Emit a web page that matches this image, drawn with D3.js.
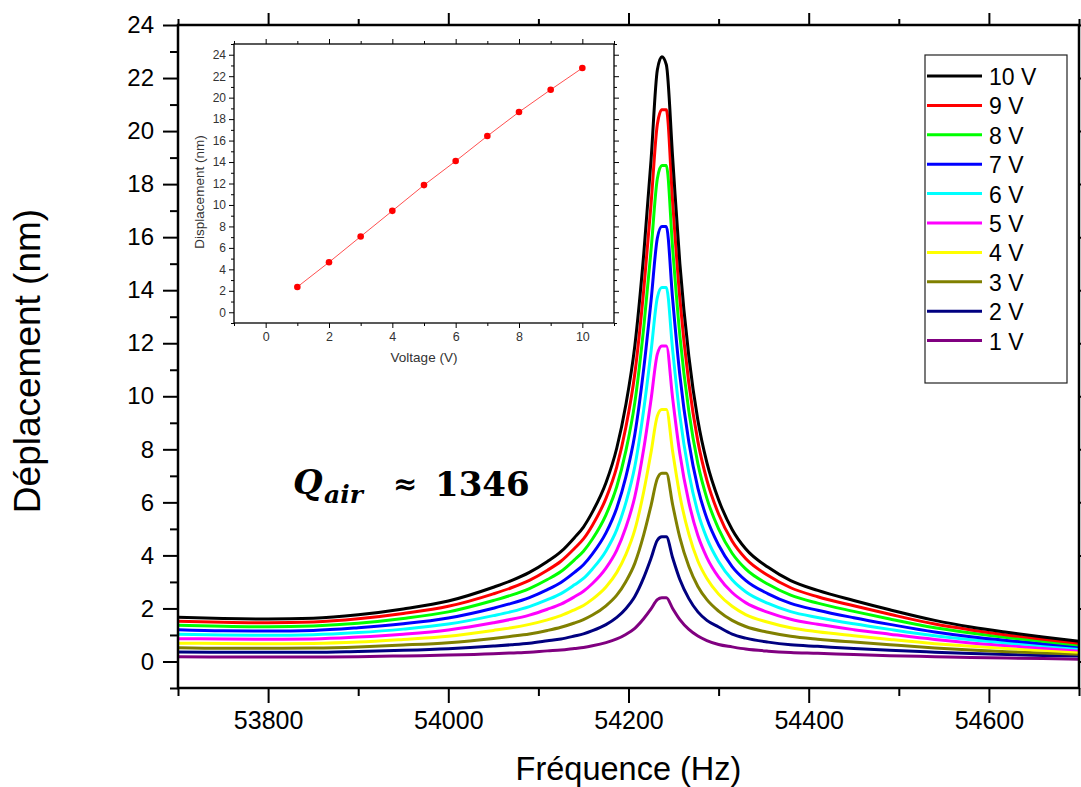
<!DOCTYPE html>
<html><head><meta charset="utf-8">
<script src="https://cdn.jsdelivr.net/npm/d3@7/dist/d3.min.js"></script>
<style>body{margin:0;background:#fff} svg{display:block}</style>
</head><body><svg id="c" width="1081" height="787"></svg>
<script>
// ---------- data ----------
const frequencies = [53700,53750,53800,53850,53900,53950,54000,54050,54070,54090,
  54110,54125,54140,54150,54160,54175,54187,54197,54207,54217,54225,54232,
  54237,54242,
  54249,54257,54267,54277,54287,54300,54315,
  54330,54355,54380,54410,54450,54490,54540,54580,54620,54660,54700];
const disp10V = [1.67,1.62,1.60,1.63,1.76,1.98,2.28,2.80,3.05,3.36, 3.77,4.14,4.67,5.07,5.64,6.74,8.05,9.67,11.9,15.4,18.9,22.3, 22.8,22.5, 19.0,15.0,11.5,9.1,7.5,6.1,4.98, 4.25,3.55,3.05,2.68,2.30,1.95,1.55,1.30,1.10,0.92,0.76];
const disp9V = [1.52,1.48,1.46,1.49,1.61,1.81,2.08,2.55,2.78,3.06, 3.44,3.78,4.26,4.62,5.14,6.15,7.34,8.82,10.85,14.04,17.24,20.25, 20.8,20.8, 17.33,13.68,10.49,8.30,6.84,5.56,4.54, 3.88,3.24,2.78,2.44,2.10,1.78,1.41,1.19,1.00,0.84,0.69];
const disp8V = [1.37,1.33,1.31,1.34,1.44,1.62,1.87,2.30,2.50,2.75, 3.09,3.39,3.83,4.16,4.62,5.53,6.60,7.93,9.76,12.63,15.50,18.2, 18.7,18.7, 15.58,12.30,9.43,7.46,6.15,5.00,4.08, 3.49,2.91,2.50,2.20,1.89,1.60,1.27,1.07,0.90,0.76,0.62];
const disp7V = [1.20,1.16,1.15,1.17,1.27,1.42,1.64,2.01,2.19,2.41, 2.71,2.98,3.36,3.65,4.06,4.85,5.79,6.95,8.56,11.07,13.59,15.96, 16.4,16.4, 13.66,10.79,8.27,6.54,5.39,4.39,3.58, 3.06,2.55,2.19,1.93,1.65,1.40,1.11,0.93,0.79,0.67,0.56];
const disp6V = [1.03,1.00,0.99,1.01,1.09,1.22,1.41,1.73,1.88,2.07, 2.33,2.56,2.89,3.13,3.49,4.17,4.97,5.98,7.35,9.52,11.68,13.72, 14.1,14.1, 11.74,9.27,7.11,5.62,4.64,3.77,3.08, 2.63,2.19,1.88,1.66,1.42,1.21,0.97,0.82,0.70,0.60,0.50];
const disp5V = [0.86,0.85,0.84,0.85,0.92,1.03,1.19,1.46,1.59,1.75, 1.97,2.16,2.44,2.65,2.94,3.52,4.20,5.05,6.21,8.04,9.87,11.59, 11.9,11.9, 9.92,7.83,6.00,4.75,3.92,3.18,2.60, 2.22,1.85,1.59,1.40,1.20,1.03,0.83,0.70,0.60,0.51,0.43];
const disp4V = [0.69,0.68,0.67,0.68,0.73,0.83,0.95,1.17,1.27,1.40, 1.57,1.73,1.95,2.11,2.35,2.81,3.36,4.03,4.96,6.42,7.88,9.26, 9.5,9.5, 7.92,6.26,4.80,3.79,3.13,2.54,2.08, 1.77,1.48,1.27,1.12,0.97,0.83,0.67,0.57,0.49,0.42,0.35];
const disp3V = [0.52,0.50,0.50,0.51,0.55,0.62,0.71,0.87,0.95,1.04, 1.17,1.29,1.45,1.58,1.75,2.10,2.50,3.01,3.70,4.79,5.88,6.90, 7.1,7.1, 5.91,4.67,3.58,2.83,2.33,1.90,1.55, 1.32,1.10,0.95,0.84,0.73,0.63,0.51,0.43,0.37,0.32,0.27];
const disp2V = [0.36,0.35,0.35,0.35,0.38,0.42,0.48,0.58,0.63,0.69, 0.78,0.85,0.96,1.04,1.16,1.39,1.66,1.99,2.45,3.17,3.89,4.57, 4.7,4.7, 3.91,3.09,2.37,1.87,1.55,1.30,1.03, 0.88,0.73,0.63,0.57,0.49,0.42,0.35,0.30,0.26,0.23,0.21];
const disp1V = [0.18,0.17,0.17,0.17,0.18,0.21,0.24,0.29,0.32,0.35, 0.40,0.43,0.49,0.53,0.59,0.71,0.85,1.02,1.25,1.62,1.98,2.33, 2.4,2.4, 2.00,1.58,1.21,0.96,0.79,0.64,0.55, 0.47,0.39,0.34,0.31,0.26,0.22,0.18,0.15,0.13,0.11,0.08];
const seriesLabels = ["10 V","9 V","8 V","7 V","6 V","5 V","4 V","3 V","2 V","1 V"];
const seriesColors = ["#000000","#ff0000","#00ff00","#0000ff","#00ffff","#ff00ff","#ffff00","#808000","#000080","#800080"];
const seriesValues = [disp10V,disp9V,disp8V,disp7V,disp6V,disp5V,disp4V,disp3V,disp2V,disp1V];
const xMajorTicks = [53800,54000,54200,54400,54600];
const xMinorTicks = [53700,53900,54100,54300,54500,54700];
const yMajorTicks = [0,2,4,6,8,10,12,14,16,18,20,22,24];
const yMinorTicks = [-1,1,3,5,7,9,11,13,15,17,19,21,23];
// inset
const insetVoltages = [1,2,3,4,5,6,7,8,9,10];
const insetDisp = [2.36,4.66,7.06,9.45,11.85,14.09,16.42,18.66,20.74,22.76];
const insetXMajor = [0,2,4,6,8,10];
const insetXMinor = [-1,1,3,5,7,9,11];
const insetYMajor = [0,2,4,6,8,10,12,14,16,18,20,22,24];
const insetYMinor = [-1,1,3,5,7,9,11,13,15,17,19,21,23,25];

// ---------- main chart ----------
const svg = d3.select("#c");
const L = 178, R = 1079, T = 25, B = 688;
const x = d3.scaleLinear([53700,54700],[L,R]);
const y = d3.scaleLinear([-1,24],[B,T]);
const font = "'Liberation Sans', Arial, sans-serif";

svg.append("defs").append("clipPath").attr("id","clip")
  .append("rect").attr("x",L).attr("y",T).attr("width",R-L).attr("height",B-T);

const curves = svg.append("g").attr("clip-path","url(#clip)");
const line = d3.line().x((d,i)=>x(frequencies[i])).y(d=>y(d)).curve(d3.curveMonotoneX);
for (let k = seriesValues.length-1; k >= 0; k--) {
  curves.append("path").attr("d", line(seriesValues[k]))
    .attr("fill","none").attr("stroke",seriesColors[k]).attr("stroke-width",3)
    .attr("stroke-linejoin","round");
}

function styleAxis(g, sw){
  g.select(".domain").remove();
  g.selectAll(".tick line").attr("stroke","#000").attr("stroke-width",sw);
}
// left
svg.append("g").attr("transform",`translate(${L},0)`)
  .call(d3.axisLeft(y).tickValues(yMajorTicks).tickSize(15).tickPadding(9))
  .call(g=>{styleAxis(g,2); g.selectAll("text").attr("font-family",font).attr("font-size",24).attr("fill","#000");});
svg.append("g").attr("transform",`translate(${L},0)`)
  .call(d3.axisLeft(y).tickValues(yMinorTicks).tickSize(8).tickFormat(""))
  .call(g=>styleAxis(g,2));
// right
svg.append("g").attr("transform",`translate(${R},0)`)
  .call(d3.axisRight(y).tickValues(yMajorTicks).tickSize(12).tickFormat(""))
  .call(g=>styleAxis(g,2));
// bottom
svg.append("g").attr("transform",`translate(0,${B})`)
  .call(d3.axisBottom(x).tickValues(xMajorTicks).tickSize(15).tickPadding(8).tickFormat(d3.format("d")))
  .call(g=>{styleAxis(g,2); g.selectAll("text").attr("font-family",font).attr("font-size",25).attr("fill","#000");});
svg.append("g").attr("transform",`translate(0,${B})`)
  .call(d3.axisBottom(x).tickValues(xMinorTicks).tickSize(8).tickFormat(""))
  .call(g=>styleAxis(g,2));
// top
svg.append("g").attr("transform",`translate(0,${T})`)
  .call(d3.axisTop(x).tickValues(xMajorTicks).tickSize(12).tickFormat(""))
  .call(g=>styleAxis(g,2));
svg.append("g").attr("transform",`translate(0,${T})`)
  .call(d3.axisTop(x).tickValues(xMinorTicks).tickSize(6).tickFormat(""))
  .call(g=>styleAxis(g,2));
// frame
svg.append("rect").attr("x",L).attr("y",T).attr("width",R-L).attr("height",B-T)
  .attr("fill","none").attr("stroke","#000").attr("stroke-width",2.5);

// axis titles
svg.append("text").attr("x",(L+R)/2).attr("y",780).attr("text-anchor","middle")
  .attr("font-family",font).attr("font-size",32.5).attr("fill","#000").text("Fréquence (Hz)");
svg.append("text").attr("transform",`translate(40,361) rotate(-90)`).attr("text-anchor","middle")
  .attr("font-family",font).attr("font-size",37).attr("fill","#000").text("Déplacement (nm)");

// annotation
const serif = "'DejaVu Serif', serif";
svg.append("text").attr("x",293).attr("y",494).attr("font-family",serif).attr("font-weight","bold")
  .attr("font-style","italic").attr("font-size",34).text("Q");
svg.append("text").attr("x",324).attr("y",503).attr("font-family",serif).attr("font-weight","bold")
  .attr("font-style","italic").attr("font-size",25).text("air");
svg.append("text").attr("x",393).attr("y",494).attr("font-family",serif).attr("font-weight","bold")
  .attr("font-size",29).text("≈");
svg.append("text").attr("x",435).attr("y",496).attr("font-family",serif).attr("font-weight","bold")
  .attr("font-size",34).text("1346");

// legend
const lg = svg.append("g");
lg.append("rect").attr("x",925).attr("y",55).attr("width",142).attr("height",328)
  .attr("fill","#fff").attr("stroke","#222").attr("stroke-width",1.2);
seriesLabels.forEach((lab,i)=>{
  const yy = 76 + i*29.4;
  lg.append("line").attr("x1",927).attr("x2",982).attr("y1",yy).attr("y2",yy)
    .attr("stroke",seriesColors[i]).attr("stroke-width",3);
  lg.append("text").attr("x",989).attr("y",yy+9).attr("font-family",font).attr("font-size",23)
    .attr("fill","#000").text(lab);
});

// ---------- inset ----------
const iL = 234, iR = 614, iT = 44, iB = 323;
const ix = d3.scaleLinear([-1,11],[iL,iR]);
const iy = d3.scaleLinear([-1,25],[iB,iT]);
const ins = svg.append("g");
ins.append("rect").attr("x",iL).attr("y",iT).attr("width",iR-iL).attr("height",iB-iT).attr("fill","#fff");
const lab = "#333";
ins.append("g").attr("transform",`translate(${iL},0)`)
  .call(d3.axisLeft(iy).tickValues(insetYMajor).tickSize(5).tickPadding(3))
  .call(g=>{styleAxis(g,1); g.selectAll("text").attr("font-family",font).attr("font-size",12).attr("fill",lab);});
ins.append("g").attr("transform",`translate(${iL},0)`)
  .call(d3.axisLeft(iy).tickValues(insetYMinor).tickSize(3).tickFormat(""))
  .call(g=>styleAxis(g,1));
ins.append("g").attr("transform",`translate(${iR},0)`)
  .call(d3.axisRight(iy).tickValues(insetYMajor).tickSize(5).tickFormat(""))
  .call(g=>styleAxis(g,1));
ins.append("g").attr("transform",`translate(${iR},0)`)
  .call(d3.axisRight(iy).tickValues(insetYMinor).tickSize(3).tickFormat(""))
  .call(g=>styleAxis(g,1));
ins.append("g").attr("transform",`translate(0,${iB})`)
  .call(d3.axisBottom(ix).tickValues(insetXMajor).tickSize(5).tickPadding(4))
  .call(g=>{styleAxis(g,1); g.selectAll("text").attr("font-family",font).attr("font-size",12.5).attr("fill",lab);});
ins.append("g").attr("transform",`translate(0,${iB})`)
  .call(d3.axisBottom(ix).tickValues(insetXMinor).tickSize(3).tickFormat(""))
  .call(g=>styleAxis(g,1));
ins.append("g").attr("transform",`translate(0,${iT})`)
  .call(d3.axisTop(ix).tickValues(insetXMajor).tickSize(5).tickFormat(""))
  .call(g=>styleAxis(g,1));
ins.append("g").attr("transform",`translate(0,${iT})`)
  .call(d3.axisTop(ix).tickValues(insetXMinor).tickSize(3).tickFormat(""))
  .call(g=>styleAxis(g,1));
ins.append("rect").attr("x",iL).attr("y",iT).attr("width",iR-iL).attr("height",iB-iT)
  .attr("fill","none").attr("stroke","#000").attr("stroke-width",1.3);
ins.append("path").attr("d", d3.line().x((d,i)=>ix(insetVoltages[i])).y(d=>iy(d))(insetDisp))
  .attr("fill","none").attr("stroke","#ff5050").attr("stroke-width",1);
ins.selectAll("circle.pt").data(insetDisp).join("circle").attr("class","pt")
  .attr("cx",(d,i)=>ix(insetVoltages[i])).attr("cy",d=>iy(d)).attr("r",3.3).attr("fill","#ff0000");
ins.append("text").attr("x",(iL+iR)/2).attr("y",362).attr("text-anchor","middle")
  .attr("font-family",font).attr("font-size",13.5).attr("fill",lab).text("Voltage (V)");
ins.append("text").attr("transform",`translate(204,192) rotate(-90)`).attr("text-anchor","middle")
  .attr("font-family",font).attr("font-size",13.5).attr("fill",lab).text("Displacement (nm)");
</script></body></html>
